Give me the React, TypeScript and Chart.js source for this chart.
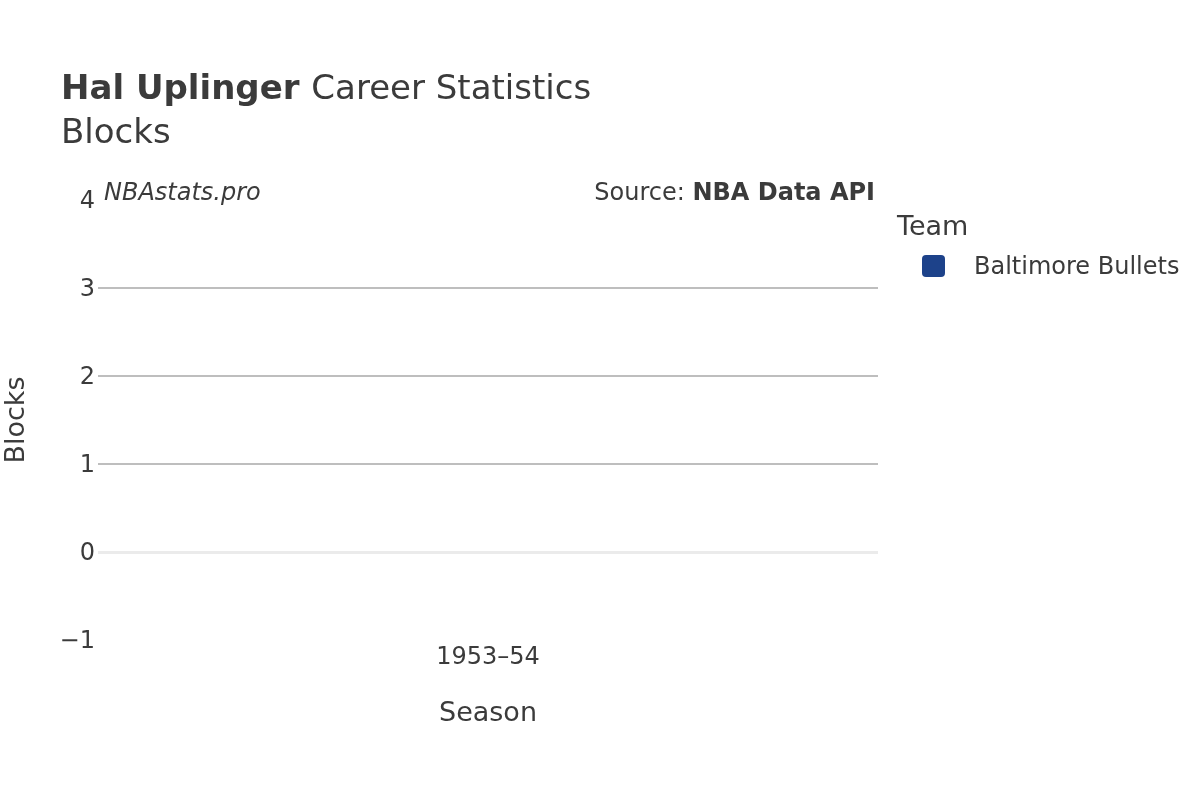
import React, { useEffect, useRef } from "react";
import { Chart, registerables } from "chart.js";

Chart.register(...registerables);

const seasons = ["1953–54"];
const teams = ["Baltimore Bullets"];
const teamColors = ["#1d428a"];
const blocks = [0];
const yTicks = [-1, 0, 1, 2, 3, 4];

const FONT = "'DejaVu Sans', sans-serif";
const TEXT = "#3b3b3b";

// titles, watermark, source and legend drawn in plotly style
const overlayPlugin = {
  id: "overlay",
  afterDraw(chart: Chart) {
    const ctx = chart.ctx;
    ctx.save();
    ctx.fillStyle = TEXT;
    ctx.textBaseline = "alphabetic";
    ctx.textAlign = "left";

    ctx.font = `bold 34px ${FONT}`;
    const boldPart = "Hal Uplinger";
    ctx.fillText(boldPart, 61, 99);
    const w = ctx.measureText(boldPart + " ").width;
    ctx.font = `34px ${FONT}`;
    ctx.fillText("Career Statistics", 61 + w, 99);
    ctx.fillText("Blocks", 61, 143);

    ctx.font = `italic 24px ${FONT}`;
    ctx.fillText("NBAstats.pro", 104, 200);

    ctx.textAlign = "right";
    ctx.font = `bold 24px ${FONT}`;
    const src = "NBA Data API";
    ctx.fillText(src, 875, 200);
    const sw = ctx.measureText(src).width;
    ctx.font = `24px ${FONT}`;
    ctx.fillText("Source: ", 875 - sw, 200);

    // legend
    ctx.textAlign = "left";
    ctx.font = `27px ${FONT}`;
    ctx.fillText("Team", 897, 235);
    chart.data.datasets.forEach((ds, i) => {
      const y = 266 + i * 36;
      ctx.fillStyle = ds.backgroundColor as string;
      ctx.beginPath();
      ctx.roundRect(922, y - 11, 23, 22, 4);
      ctx.fill();
      ctx.fillStyle = TEXT;
      ctx.font = `24px ${FONT}`;
      ctx.textBaseline = "middle";
      ctx.fillText(ds.label as string, 974, y + 2);
      ctx.textBaseline = "alphabetic";
    });
    ctx.restore();
  },
};

const App = () => {
  const canvasRef = useRef<HTMLCanvasElement>(null);

  useEffect(() => {
    if (!canvasRef.current) return;
    const chart = new Chart(canvasRef.current, {
      type: "bar",
      data: {
        labels: seasons,
        datasets: teams.map((team, i) => ({
          label: team,
          data: blocks,
          backgroundColor: teamColors[i],
          borderWidth: 0,
        })),
      },
      options: {
        animation: false,
        responsive: true,
        maintainAspectRatio: false,
        layout: { padding: { top: 200, right: 322, bottom: 0, left: 0 } },
        plugins: {
          legend: { display: false },
          title: { display: false },
          tooltip: { enabled: false },
        },
        scales: {
          x: {
            grid: { display: false, drawTicks: false },
            border: { display: false },
            ticks: {
              color: TEXT,
              font: { family: FONT, size: 24 },
              padding: 3,
              maxRotation: 0,
            },
            title: {
              display: true,
              text: "Season",
              color: TEXT,
              font: { family: FONT, size: 27 },
              padding: { top: 0, bottom: 70 },
            },
            afterFit: (scale) => {
              scale.height = 160;
            },
          },
          y: {
            min: yTicks[0],
            max: yTicks[yTicks.length - 1],
            afterBuildTicks: (scale) => {
              scale.ticks = yTicks.map((v) => ({ value: v }));
            },
            border: { display: false },
            grid: {
              drawTicks: false,
              color: (c) =>
                c.tick.value === 0
                  ? "#ebebeb"
                  : c.tick.value === yTicks[0] || c.tick.value === yTicks[yTicks.length - 1]
                  ? "rgba(0,0,0,0)"
                  : "#bebebe",
              lineWidth: (c) => (c.tick.value === 0 ? 3 : 2),
            },
            ticks: {
              color: TEXT,
              font: { family: FONT, size: 24 },
              padding: 3,
              labelOffset: 2,
              callback: (v) => String(v).replace("-", "\u2212"),
            },
            title: {
              display: true,
              text: "Blocks",
              color: TEXT,
              font: { family: FONT, size: 27 },
              padding: { top: 1, bottom: 0 },
            },
            afterFit: (scale) => {
              scale.width = 98;
            },
          },
        },
      },
      plugins: [overlayPlugin],
    });
    return () => {
      chart.destroy();
    };
  }, []);

  return (
    <div style={{ position: "fixed", left: 0, top: 0, width: 1200, height: 800, background: "#fff" }}>
      <canvas ref={canvasRef} />
    </div>
  );
};

export default App;
